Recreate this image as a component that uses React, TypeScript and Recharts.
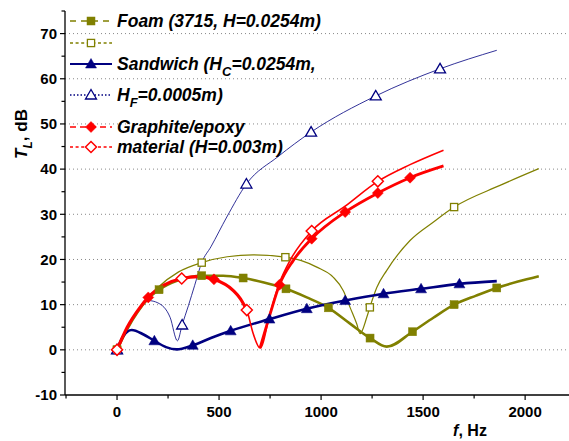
import React from 'react';
import { ComposedChart, Line, Scatter, XAxis, YAxis, CartesianGrid, Legend } from 'recharts';

// ---- data (f in Hz, TL in dB) ----
const foamCurve: [number, number][] = [
  [0, 0], [50, 4.6], [100, 8.3], [150, 11.2], [206, 13.3], [300, 15.4], [415, 16.4], [520, 16.4],
  [618, 15.9], [720, 14.9], [828, 13.5], [930, 11.6], [1036, 9.3], [1142, 5.8], [1240, 2.6],
  [1322, 0.7], [1448, 4.0], [1550, 7.1], [1652, 10.0], [1760, 12.0], [1861, 13.7], [1965, 15.1], [2067, 16.3],
];
const foamMarks: [number, number][] = [
  [0, 0], [206, 13.3], [415, 16.4], [618, 15.9], [828, 13.5], [1036, 9.3], [1240, 2.6], [1448, 4.0], [1652, 10.0], [1861, 13.7],
];
const foamThinCurve: [number, number][] = [
  [0, 0], [100, 8.5], [200, 13.8], [300, 17.2], [415, 19.3], [540, 20.6], [667, 21.0], [825, 20.5],
  [900, 19.8], [979, 18.3], [1059, 16.1], [1109, 13.1], [1142, 9.4], [1175, 5.7], [1191, 3.6],
  [1224, 7.2], [1239, 9.4], [1273, 13.8], [1322, 17.6], [1436, 24.2], [1551, 28.3], [1652, 31.6],
  [1877, 36.4], [2067, 40.1],
];
const foamThinMarks: [number, number][] = [
  [0, 0], [415, 19.3], [825, 20.5], [1239, 9.4], [1652, 31.6],
];
const sandCurve: [number, number][] = [
  [0, 0], [30, 3.0], [72, 4.4], [130, 3.4], [183, 2.0], [240, 0.6], [292, 0.1], [371, 1.0],
  [460, 2.6], [557, 4.2], [747, 6.8], [930, 9.1], [1118, 10.9], [1306, 12.4], [1490, 13.5],
  [1678, 14.6], [1861, 15.2],
];
const sandMarks: [number, number][] = [
  [0, 0], [183, 2.0], [371, 1.0], [557, 4.2], [747, 6.8], [930, 9.1], [1118, 10.9], [1306, 12.4], [1490, 13.5], [1678, 14.6],
];
const sandThinCurve: [number, number][] = [
  [0, 0], [50, 5.0], [100, 8.7], [154, 10.9], [200, 10.4], [260, 7.2], [296, 2.0], [319, 5.5],
  [350, 9.8], [380, 14.2], [415, 19.3], [460, 22.8], [538, 29.4], [634, 36.7], [790, 42.8],
  [951, 48.2], [1268, 56.2], [1583, 62.2], [1861, 66.3],
];
const sandThinMarks: [number, number][] = [
  [0, 0], [319, 5.5], [634, 36.7], [951, 48.2], [1268, 56.2], [1583, 62.2],
];
const graphCurveA: [number, number][] = [
  [0, 0], [50, 5.0], [113, 9.4], [153, 11.6], [230, 14.3], [317, 15.8], [400, 16.2], [475, 15.6],
  [570, 13.1], [605, 11.3], [636, 8.8],
];
const graphCurveB: [number, number][] = [
  [701, 0.4], [750, 7.9], [796, 14.4], [864, 19.8], [954, 24.6], [1118, 30.5], [1278, 34.7], [1436, 38.1], [1600, 40.7],
];
const graphMarks: [number, number][] = [
  [0, 0], [153, 11.6], [475, 15.6], [796, 14.4], [954, 24.6], [1118, 30.5], [1278, 34.7], [1436, 38.1],
];
const graphThinCurve: [number, number][] = [
  [0, 0], [50, 5.0], [113, 9.4], [153, 11.6], [230, 14.3], [317, 15.8], [400, 16.3], [475, 15.6],
  [570, 13.1], [605, 11.3], [636, 8.8], [668, 3.5], [701, 0.4], [750, 8.1], [796, 14.8], [848, 19.8],
  [954, 26.3], [1118, 31.8], [1278, 37.3], [1436, 41.0], [1600, 44.2],
];
const graphThinMarks: [number, number][] = [
  [0, 0], [317, 15.8], [636, 8.8], [954, 26.3], [1278, 37.3],
];

const xTicks = [-250, 0, 250, 500, 750, 1000, 1250, 1500, 1750, 2000];
const yTicks = [-10, -5, 0, 5, 10, 15, 20, 25, 30, 35, 40, 45, 50, 55, 60, 65, 70, 75];
const gridValues = [0, 10, 20, 30, 40, 50, 60, 70];

const rows = (a: [number, number][]) => a.map(([f, v]) => ({ f, v }));

const OLIVE = '#808000';
const NAVY = '#000080';
const RED = '#ff0000';
const FONT = '"Liberation Sans", Arial, sans-serif';

type ShapeKind = 'square' | 'triangle' | 'diamond';

function Marker({ cx, cy, kind, filled, color, sw = 1.3 }: { cx: number; cy: number; kind: ShapeKind; filled: boolean; color: string; sw?: number }) {
  const fill = filled ? color : '#ffffff';
  if (kind === 'square') {
    const h = filled ? 4 : 3.6;
    return <rect x={cx - h} y={cy - h} width={2 * h} height={2 * h} fill={fill} stroke={color} strokeWidth={filled ? 0.5 : sw} />;
  }
  if (kind === 'triangle') {
    return <polygon points={`${cx},${cy - 5.5} ${cx - 5.5},${cy + 4} ${cx + 5.5},${cy + 4}`} fill={fill} stroke={color} strokeWidth={filled ? 0.5 : sw} />;
  }
  const d = 5.5;
  return <polygon points={`${cx},${cy - d} ${cx + d},${cy} ${cx},${cy + d} ${cx - d},${cy}`} fill={fill} stroke={color} strokeWidth={filled ? 0.5 : 1.5} />;
}

const shapeFn = (kind: ShapeKind, filled: boolean, color: string) => (p: any) =>
  <Marker cx={p.cx} cy={p.cy} kind={kind} filled={filled} color={color} />;

const XTick = (p: any) => {
  const v = p.payload.value;
  const major = v % 500 === 0;
  return (
    <g>
      <line x1={p.x} y1={p.y} x2={p.x} y2={p.y + (major ? 5 : 3.5)} stroke="#000" strokeWidth={1.2} />
      {major && (
        <text x={p.x} y={p.y + 22} textAnchor="middle" fontFamily={FONT} fontWeight="bold" fontSize={15} fill="#000">{v}</text>
      )}
    </g>
  );
};

const YTick = (p: any) => {
  const v = p.payload.value;
  const major = v % 10 === 0;
  return (
    <g>
      <line x1={p.x} y1={p.y} x2={p.x - (major ? 5 : 3.5)} y2={p.y} stroke="#000" strokeWidth={1.2} />
      {major && (
        <text x={p.x - 8} y={p.y + 5.3} textAnchor="end" fontFamily={FONT} fontWeight="bold" fontSize={15} fill="#000">{v}</text>
      )}
    </g>
  );
};

const subStyle: React.CSSProperties = { fontSize: 13, verticalAlign: '-6px', lineHeight: 0 };

const legendItems: { top: number; color: string; dash?: string; kind: ShapeKind; filled: boolean; label: React.ReactNode }[] = [
  { top: 21, color: OLIVE, dash: '6 5', kind: 'square', filled: true, label: 'Foam (3715, H=0.0254m)' },
  { top: 43, color: OLIVE, dash: '3 2.6', kind: 'square', filled: false, label: '' },
  { top: 64, color: NAVY, kind: 'triangle', filled: true, label: <>Sandwich (H<sub style={subStyle}>C</sub>=0.0254m,</> },
  { top: 95, color: NAVY, dash: '1.5 2', kind: 'triangle', filled: false, label: <>H<sub style={subStyle}>F</sub>=0.0005m)</> },
  { top: 127, color: RED, dash: '6 4', kind: 'diamond', filled: true, label: 'Graphite/epoxy' },
  { top: 147, color: RED, dash: '3 2.6', kind: 'diamond', filled: false, label: 'material (H=0.003m)' },
];

const LegendContent = () => (
  <div style={{ position: 'relative', width: 569, height: 441 }}>
    {legendItems.map((it, i) => (
      <div key={i} style={{ position: 'absolute', left: 68, top: it.top - 11, height: 22, display: 'flex', alignItems: 'center', whiteSpace: 'nowrap' }}>
        <svg width={46} height={22} style={{ display: 'block' }}>
          <line x1={2} y1={11} x2={44} y2={11} stroke={it.color} strokeWidth={it.filled && !it.dash ? 2 : 1.3} strokeDasharray={it.dash} />
          <Marker cx={23} cy={11} kind={it.kind} filled={it.filled} color={it.color} />
        </svg>
        <span style={{ marginLeft: 3, fontFamily: FONT, fontWeight: 'bold', fontStyle: 'italic', fontSize: 17.5, lineHeight: '22px', color: '#000' }}>{it.label}</span>
      </div>
    ))}
  </div>
);

export default function App() {
  return (
    <div style={{ position: 'absolute', left: 0, top: 0, width: 569, height: 441, background: '#fff' }}>
      <ComposedChart width={569} height={441} margin={{ top: 11, right: 0, bottom: 16, left: 0 }}>
        <CartesianGrid vertical={false} horizontalValues={gridValues} stroke="#888" strokeDasharray="1 3" />
        <XAxis
          dataKey="f" type="number" domain={[-255, 2215]} ticks={xTicks} allowDataOverflow
          height={30} tickSize={0} tickMargin={0} tickLine={false} tick={<XTick />}
          axisLine={{ stroke: '#000', strokeWidth: 1.3 }} interval={0}
        />
        <YAxis
          type="number" domain={[-10, 75]} ticks={yTicks} allowDataOverflow
          width={65} tickSize={0} tickMargin={0} tickLine={false} tick={<YTick />}
          axisLine={{ stroke: '#000', strokeWidth: 1.3 }} interval={0}
        />
        <Legend layout="horizontal" verticalAlign="middle" align="center" content={<LegendContent />}
          wrapperStyle={{ position: 'absolute', left: 0, top: 0, width: 569, height: 441, pointerEvents: 'none' }} />

        <Line data={rows(foamThinCurve)} dataKey="v" type="monotone" stroke={OLIVE} strokeWidth={1.2} dot={false} isAnimationActive={false} legendType="none" />
        <Line data={rows(foamCurve)} dataKey="v" type="monotone" stroke={OLIVE} strokeWidth={2.6} dot={false} isAnimationActive={false} legendType="none" />
        <Line data={rows(sandThinCurve)} dataKey="v" type="monotone" stroke={NAVY} strokeWidth={1} strokeOpacity={0.8} dot={false} isAnimationActive={false} legendType="none" />
        <Line data={rows(sandCurve)} dataKey="v" type="monotone" stroke={NAVY} strokeWidth={2.6} dot={false} isAnimationActive={false} legendType="none" />
        <Line data={rows(graphThinCurve)} dataKey="v" type="monotone" stroke={RED} strokeWidth={1.6} dot={false} isAnimationActive={false} legendType="none" />
        <Line data={rows(graphCurveA)} dataKey="v" type="monotone" stroke={RED} strokeWidth={3.2} dot={false} isAnimationActive={false} legendType="none" />
        <Line data={rows(graphCurveB)} dataKey="v" type="monotone" stroke={RED} strokeWidth={2.8} dot={false} isAnimationActive={false} legendType="none" />

        <Scatter data={rows(foamMarks)} dataKey="v" shape={shapeFn('square', true, OLIVE)} isAnimationActive={false} legendType="none" />
        <Scatter data={rows(foamThinMarks)} dataKey="v" shape={shapeFn('square', false, OLIVE)} isAnimationActive={false} legendType="none" />
        <Scatter data={rows(sandMarks)} dataKey="v" shape={shapeFn('triangle', true, NAVY)} isAnimationActive={false} legendType="none" />
        <Scatter data={rows(sandThinMarks)} dataKey="v" shape={shapeFn('triangle', false, NAVY)} isAnimationActive={false} legendType="none" />
        <Scatter data={rows(graphMarks)} dataKey="v" shape={shapeFn('diamond', true, RED)} isAnimationActive={false} legendType="none" />
        <Scatter data={rows(graphThinMarks)} dataKey="v" shape={shapeFn('diamond', false, RED)} isAnimationActive={false} legendType="none" />

        <text transform="translate(27,134) rotate(-90)" textAnchor="middle" fontFamily={FONT} fontWeight="bold" fontSize={17} fill="#000">
          <tspan fontStyle="italic">T</tspan>
          <tspan fontStyle="italic" fontSize={12} dy={5}>L</tspan>
          <tspan dy={-5}>, dB</tspan>
        </text>
        <text x={470} y={436} textAnchor="middle" fontFamily={FONT} fontWeight="bold" fontSize={16} fill="#000">
          <tspan fontStyle="italic">f</tspan>, Hz
        </text>
      </ComposedChart>
    </div>
  );
}
